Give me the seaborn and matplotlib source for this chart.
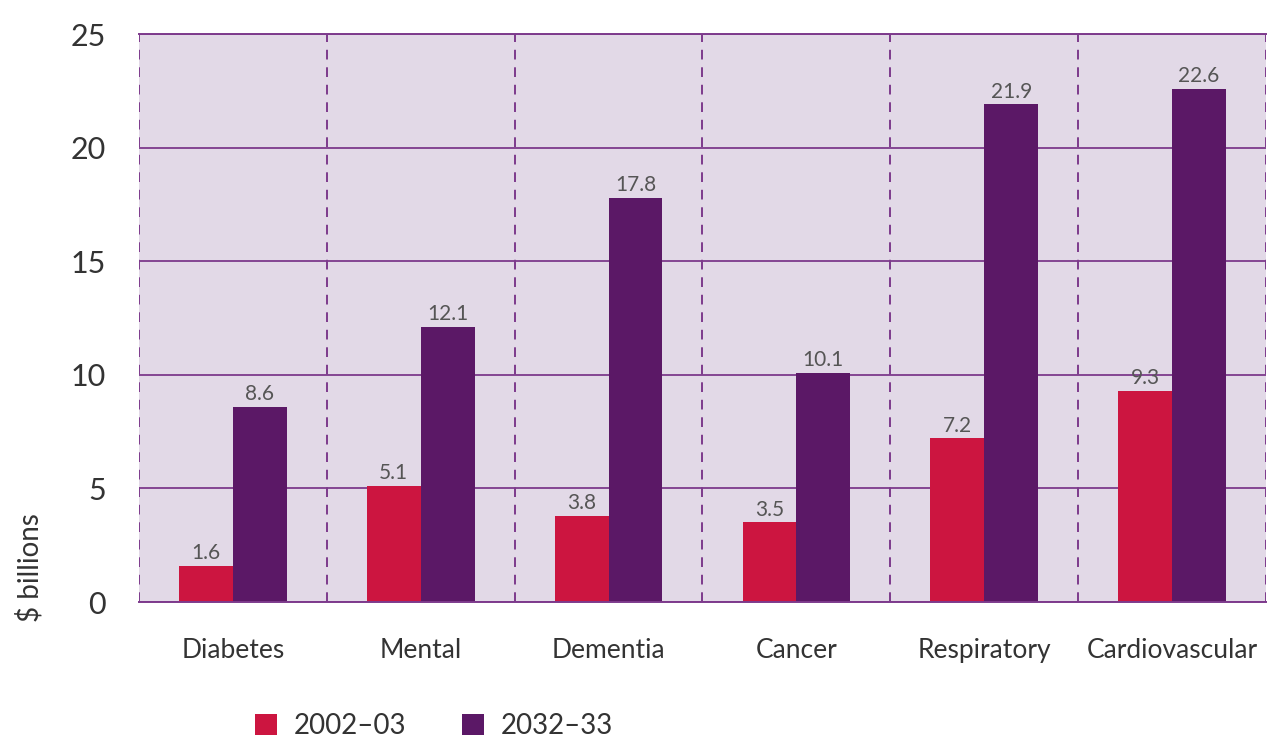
import matplotlib
matplotlib.use("Agg")
import matplotlib.pyplot as plt
import seaborn as sns
import pandas as pd
import numpy as np

categories = ["Diabetes", "Mental", "Dementia", "Cancer", "Respiratory", "Cardiovascular"]
series_names = ["2002\u201303", "2032\u201333"]
values_2002 = [1.6, 5.1, 3.8, 3.5, 7.2, 9.3]
values_2032 = [8.6, 12.1, 17.8, 10.1, 21.9, 22.6]
y_ticks = [0, 5, 10, 15, 20, 25]

df = pd.DataFrame({
    "category": categories * 2,
    "series": [series_names[0]] * len(categories) + [series_names[1]] * len(categories),
    "value": values_2002 + values_2032,
})

sns.set_theme(style="white")
plt.rcParams["font.family"] = ["Lato", "DejaVu Sans"]

RED = "#cc1540"
PURPLE = "#5b1866"
GRID = "#7d3a8c"
BG = "#e2d9e7"
TXT = "#333333"

fig = plt.figure(figsize=(12.71, 7.4), dpi=100)
ax = fig.add_axes([139 / 1271, 1 - 602 / 740, (1266 - 139) / 1271, (602 - 34) / 740])
ax.set_facecolor(BG)

sns.barplot(data=df, x="category", y="value", hue="series", order=categories,
            hue_order=series_names, palette=[RED, PURPLE], width=0.574,
            saturation=1, gap=0, ax=ax, legend=True, errorbar=None, linewidth=0)

for c in ax.containers:
    ax.bar_label(c, fmt="%.1f", padding=2, fontsize=15, color="#555555")

ax.set_xlim(-0.5, len(categories) - 0.5)
ax.set_ylim(0, 25)
ax.set_yticks(y_ticks)
ax.yaxis.grid(True, color=GRID, linewidth=1.3, linestyle="-")
ax.set_axisbelow(True)
for xb in np.arange(-0.5, len(categories), 1.0):
    ax.axvline(xb, color=GRID, linewidth=1.4, linestyle=(0, (5, 4)), zorder=0.5)

for s in ["left", "right"]:
    ax.spines[s].set_visible(False)
for s in ["top", "bottom"]:
    ax.spines[s].set_color(GRID)
    ax.spines[s].set_linewidth(1.4)

ax.set_xticks(np.arange(-0.5, len(categories), 1.0), minor=True)
ax.tick_params(axis="x", which="minor", length=8, width=1.4, color=GRID, direction="out")
ax.tick_params(axis="x", which="major", length=0, pad=26, labelsize=19, labelcolor=TXT)
ax.tick_params(axis="y", length=0, pad=24, labelsize=22, labelcolor=TXT)
ax.set_xlabel("")
ax.set_ylabel("$ billions", fontsize=20, color=TXT)
ax.yaxis.set_label_coords(-0.085, 0.06)

handles, labels = ax.get_legend_handles_labels()
ax.get_legend().remove()
fig.legend(handles, labels, loc="center", bbox_to_anchor=(434 / 1271, 1 - 726 / 740),
           ncol=2, frameon=False, fontsize=20, handlelength=0.8, handleheight=0.8,
           columnspacing=2.0, handletextpad=0.6, labelcolor=TXT)

fig.savefig("out.png", dpi=100)
